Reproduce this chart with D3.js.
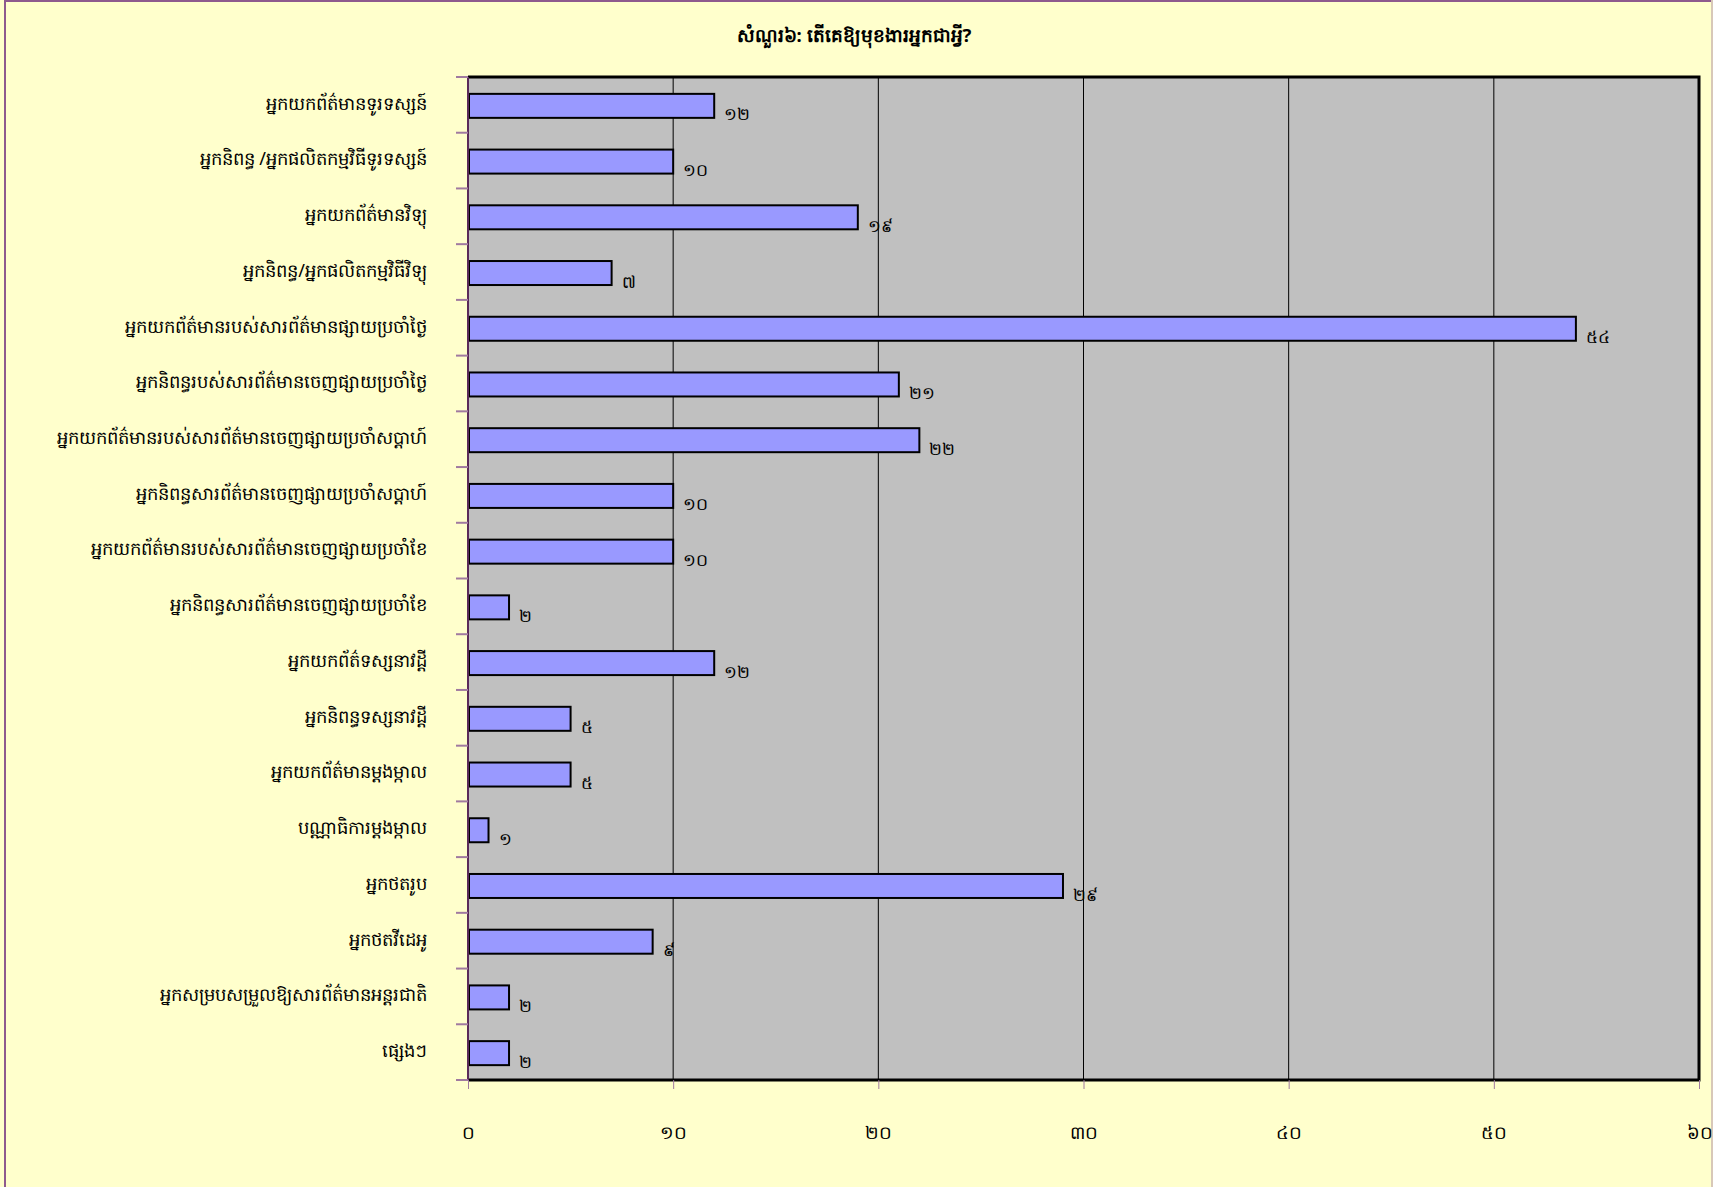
<!DOCTYPE html>
<html>
<head>
<meta charset="utf-8">
<script src="https://cdn.jsdelivr.net/npm/d3@7"></script>
<style>
  html, body { margin: 0; padding: 0; background: #FFFFCC; }
  svg { display: block; font-family: "Noto Sans", "DejaVu Sans", sans-serif; }
</style>
</head>
<body>
<div id="chart"></div>
<script>
const title = "សំណួរ៦: តើគេឱ្យមុខងារអ្នកជាអ្វី?";

const categories = [
  "អ្នកយកព័ត៌មានទូរទស្សន៍",
  "អ្នកនិពន្ធ /អ្នកផលិតកម្មវិធីទូរទស្សន៍",
  "អ្នកយកព័ត៌មានវិទ្យុ",
  "អ្នកនិពន្ធ/អ្នកផលិតកម្មវិធីវិទ្យុ",
  "អ្នកយកព័ត៌មានរបស់សារព័ត៌មានផ្សាយប្រចាំថ្ងៃ",
  "អ្នកនិពន្ធរបស់សារព័ត៌មានចេញផ្សាយប្រចាំថ្ងៃ",
  "អ្នកយកព័ត៌មានរបស់សារព័ត៌មានចេញផ្សាយប្រចាំសប្តាហ៍",
  "អ្នកនិពន្ធសារព័ត៌មានចេញផ្សាយប្រចាំសប្តាហ៍",
  "អ្នកយកព័ត៌មានរបស់សារព័ត៌មានចេញផ្សាយប្រចាំខែ",
  "អ្នកនិពន្ធសារព័ត៌មានចេញផ្សាយប្រចាំខែ",
  "អ្នកយកព័ត៌ទស្សនាវដ្ដី",
  "អ្នកនិពន្ធទស្សនាវដ្ដី",
  "អ្នកយកព័ត៌មានម្តងម្កាល",
  "បណ្ណាធិការម្តងម្កាល",
  "អ្នកថតរូប",
  "អ្នកថតវីដេអូ",
  "អ្នកសម្របសម្រួលឱ្យសារព័ត៌មានអន្តរជាតិ",
  "ផ្សេងៗ"
];

const values = [12, 10, 19, 7, 54, 21, 22, 10, 10, 2, 12, 5, 5, 1, 29, 9, 2, 2];

const xTicks = [0, 10, 20, 30, 40, 50, 60];

const khmerDigits = "០១២៣៤៥៦៧៨៩";
const toKhmer = n => String(n).replace(/[0-9]/g, d => khmerDigits[+d]);

const width = 1713, height = 1187;
const plot = { left: 468, right: 1699, top: 77, bottom: 1080 };

const svg = d3.select("#chart").append("svg")
    .attr("width", width)
    .attr("height", height);

// chart area and frame
svg.append("rect")
    .attr("x", 0).attr("y", 0)
    .attr("width", width).attr("height", height)
    .attr("fill", "#FFFFCC");
svg.append("line").attr("x1", 4).attr("x2", width).attr("y1", 1).attr("y2", 1)
    .attr("stroke", "#8E5A8E").attr("stroke-width", 2);
svg.append("line").attr("x1", 5).attr("x2", 5).attr("y1", 0).attr("y2", height)
    .attr("stroke", "#8E5A8E").attr("stroke-width", 2);
svg.append("line").attr("x1", 1712).attr("x2", 1712).attr("y1", 0).attr("y2", height)
    .attr("stroke", "#D8C8B8").attr("stroke-width", 2);

const x = d3.scaleLinear().domain([0, 60]).range([plot.left, plot.right]);
const y = d3.scaleBand().domain(categories).range([plot.top, plot.bottom]).padding(0);
const barH = 24;

// plot background
svg.append("rect")
    .attr("x", plot.left).attr("y", plot.top)
    .attr("width", plot.right - plot.left).attr("height", plot.bottom - plot.top)
    .attr("fill", "#C0C0C0");

// gridlines
svg.append("g")
    .selectAll("line")
    .data(xTicks.slice(1))
    .join("line")
    .attr("x1", d => x(d)).attr("x2", d => x(d))
    .attr("y1", plot.top).attr("y2", plot.bottom)
    .attr("stroke", "#000")
    .attr("stroke-width", 1);

// bars
svg.append("g")
    .selectAll("rect")
    .data(values)
    .join("rect")
    .attr("x", x(0) + 1)
    .attr("y", (d, i) => y(categories[i]) + (y.bandwidth() - barH) / 2 + 1)
    .attr("width", d => x(d) - x(0) - 1)
    .attr("height", barH)
    .attr("fill", "#9999FF")
    .attr("stroke", "#000")
    .attr("stroke-width", 2);

// value labels
svg.append("g")
    .selectAll("text")
    .data(values)
    .join("text")
    .attr("x", d => x(d) + 10)
    .attr("y", (d, i) => y(categories[i]) + y.bandwidth() / 2 + 11)
    .attr("dominant-baseline", "middle")
    .style("font-size", "17px")
    .style("fill", "#000")
    .text(d => toKhmer(d));

// plot border top, right, bottom
svg.append("path")
    .attr("d", `M${plot.left},${plot.top}H${plot.right}V${plot.bottom}H${plot.left}`)
    .attr("fill", "none")
    .attr("stroke", "#000")
    .attr("stroke-width", 3);

// y axis line and boundary ticks
svg.append("line")
    .attr("x1", plot.left).attr("x2", plot.left)
    .attr("y1", plot.top).attr("y2", plot.bottom)
    .attr("stroke", "#5A2A5A").attr("stroke-width", 2);
svg.append("g")
    .selectAll("line")
    .data(categories.map(c => y(c)).concat([plot.bottom]))
    .join("line")
    .attr("x1", plot.left - 12).attr("x2", plot.left)
    .attr("y1", d => d).attr("y2", d => d)
    .attr("stroke", "#A07AA0").attr("stroke-width", 2);

// category labels
svg.append("g")
    .selectAll("text")
    .data(categories)
    .join("text")
    .attr("x", 427)
    .attr("y", d => y(d) + y.bandwidth() / 2)
    .attr("text-anchor", "end")
    .attr("dominant-baseline", "middle")
    .style("font-size", "18px")
    .style("fill", "#000")
    .text(d => d);

// x axis
const xAxis = svg.append("g")
    .attr("transform", `translate(0,${plot.bottom})`)
    .call(d3.axisBottom(x).tickValues(xTicks).tickSize(9).tickFormat(toKhmer));
xAxis.select(".domain").remove();
xAxis.selectAll(".tick line").attr("stroke", "#A07AA0").attr("stroke-width", 1);
xAxis.selectAll(".tick text")
    .attr("y", 53)
    .attr("dy", "0.32em")
    .style("font-size", "18px")
    .style("font-family", "\"Noto Sans\", \"DejaVu Sans\", sans-serif")
    .style("fill", "#000");

// title
svg.append("text")
    .attr("x", 854)
    .attr("y", 37)
    .attr("text-anchor", "middle")
    .attr("dominant-baseline", "middle")
    .style("font-size", "18.5px")
    .style("font-weight", "bold")
    .style("fill", "#000")
    .text(title);
</script>
</body>
</html>
